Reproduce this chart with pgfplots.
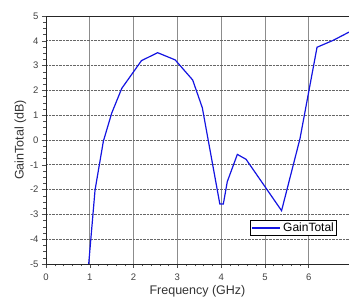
\documentclass[border=0pt]{standalone}
\usepackage{fontspec}
\setmainfont{Liberation Sans}
\usepackage{pgfplots}
\pgfplotsset{compat=1.18}
\definecolor{gblue}{RGB}{20,20,225}
\begin{document}
\begin{tikzpicture}
\begin{axis}[
  scale only axis,
  width=303pt, height=248pt,
  xmin=0, xmax=6.92, ymin=-5, ymax=5,
  xtick={0,1,...,6}, ytick={-5,-4,...,5},
  minor x tick num=4, minor y tick num=3,
  xtick pos=bottom, ytick pos=left,
  tick align=outside,
  major tick length=4pt, minor tick length=2.5pt,
  every tick/.style={black!70, line width=0.5pt},
  /pgf/number format/assume math mode=true,
  tick label style={font=\fontsize{9.5}{10}\selectfont, text=black!75},
  xticklabel style={yshift=-2pt},
  xlabel={Frequency (GHz)}, ylabel={GainTotal (dB)},
  label style={font=\fontsize{12.5}{14}\selectfont, text=black!80},
  xlabel style={yshift=2pt},
  ylabel style={yshift=-3pt},
  xmajorgrids, ymajorgrids,
  x grid style={black!45, line width=0.7pt},
  y grid style={black!60, densely dotted, line width=0.8pt},
  axis line style={black!85, line width=0.8pt},
  legend style={at={(0.960,0.113)}, anchor=south east, draw=black, line width=1pt,
    font=\fontsize{12}{13}\selectfont, inner sep=0.5pt, row sep=0pt},
  legend cell align=left,
  legend image code/.code={\draw[draw=gblue, color=gblue, line width=1.6pt] (0cm,0cm) -- (1cm,0cm);},
]
\coordinate (sw) at (rel axis cs:0,0);
\coordinate (ne) at (rel axis cs:1,1);
\addplot[gblue, line width=1.2pt] coordinates {
(0.975,-5)
(1.12,-2.02)
(1.31,-0.05)
(1.5,1.08)
(1.73,2.08)
(2.18,3.2)
(2.55,3.52)
(2.95,3.23)
(3.35,2.42)
(3.57,1.3)
(3.97,-2.58)
(4.05,-2.58)
(4.14,-1.68)
(4.37,-0.58)
(4.57,-0.78)
(5.38,-2.85)
(5.8,0.05)
(6.19,3.74)
(6.56,4.02)
(6.92,4.35)
};
\addlegendentry{GainTotal}
\end{axis}
\pgfresetboundingbox
\path ([shift={(-46pt,-39pt)}]sw) rectangle ([shift={(0pt,16pt)}]ne);
\end{tikzpicture}
\end{document}
